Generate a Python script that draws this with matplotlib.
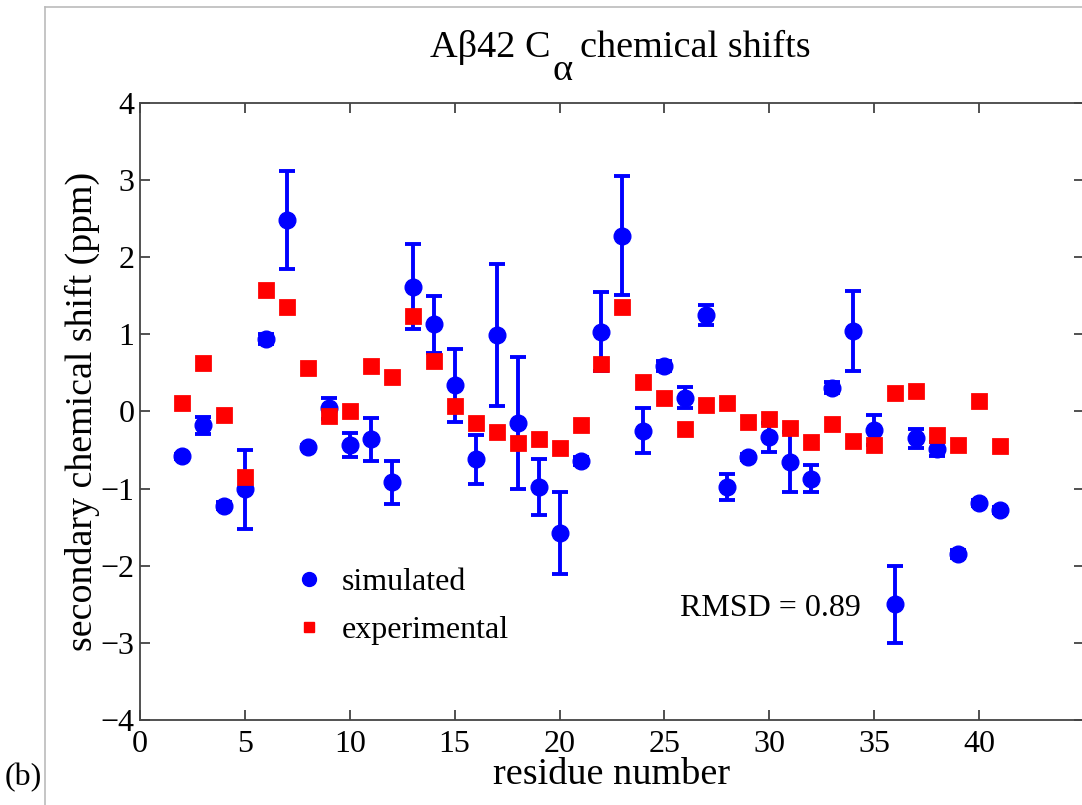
import matplotlib
matplotlib.use('Agg')
import matplotlib.pyplot as plt
from matplotlib.lines import Line2D

plt.rcParams['font.family'] = ['Liberation Serif', 'DejaVu Serif']

# residue numbers
residues = [2, 3, 4, 5, 6, 7, 8, 9, 10, 11, 12, 13, 14, 15, 16, 17, 18, 19, 20, 21,
            22, 23, 24, 25, 26, 27, 28, 29, 30, 31, 32, 33, 34, 35, 36, 37, 38, 39, 40, 41]

# simulated secondary shifts and their error bars
sim_shift = [-0.58, -0.18, -1.22, -1.01, 0.94, 2.48, -0.46, 0.04, -0.43, -0.36,
             -0.92, 1.62, 1.13, 0.34, -0.62, 0.99, -0.15, -0.98, -1.58, -0.64,
             1.035, 2.28, -0.25, 0.59, 0.18, 1.25, -0.98, -0.59, -0.335, -0.66,
             -0.87, 0.31, 1.04, -0.24, -2.50, -0.35, -0.49, -1.85, -1.19, -1.28]
sim_err = [0.03, 0.11, 0.05, 0.515, 0.07, 0.635, 0.03, 0.14, 0.155, 0.28,
           0.275, 0.555, 0.37, 0.47, 0.32, 0.925, 0.86, 0.365, 0.53, 0.05,
           0.51, 0.77, 0.29, 0.06, 0.14, 0.13, 0.165, 0.04, 0.19, 0.39,
           0.18, 0.07, 0.52, 0.19, 0.50, 0.12, 0.09, 0.05, 0.04, 0.04]

# experimental secondary shifts
exp_shift = [0.11, 0.625, -0.05, -0.85, 1.58, 1.36, 0.56, -0.06, 0.01, 0.59,
             0.45, 1.24, 0.65, 0.075, -0.15, -0.26, -0.41, -0.36, -0.48, -0.18,
             0.62, 1.36, 0.38, 0.18, -0.23, 0.09, 0.11, -0.14, -0.10, -0.21,
             -0.40, -0.16, -0.38, -0.43, 0.24, 0.27, -0.30, -0.43, 0.14, -0.45]

rmsd = 0.89

fig = plt.figure(figsize=(10.82, 8.05), dpi=100)
ax = fig.add_axes([0.1294, 0.1056, 0.8724, 0.7665])

ax.errorbar(residues, sim_shift, yerr=sim_err, fmt='o', color='#0000ff',
            markersize=12, elinewidth=2.8, capsize=6, capthick=2.8, zorder=2)
ax.plot(residues, exp_shift, 's', color='#ff0000', markersize=10.5,
        markeredgewidth=2, zorder=3)

ax.set_xlim(0, 45)
ax.set_ylim(-4, 4)
ax.set_xticks([0, 5, 10, 15, 20, 25, 30, 35, 40])
ax.set_yticks([-4, -3, -2, -1, 0, 1, 2, 3, 4])
ax.set_yticklabels(['\u22124', '\u22123', '\u22122', '\u22121', '0', '1', '2', '3', '4'])
ax.tick_params(direction='in', length=7, width=1.2, top=True, right=True,
               labelsize=23, colors='#333333', labelcolor='black')
ax.tick_params(axis='x', pad=7)
ax.tick_params(axis='y', pad=4)
for s in ax.spines.values():
    s.set_color('#444444')
    s.set_linewidth(1.3)

ax.set_xlabel('residue number', fontsize=27.5, labelpad=-1)
ax.set_ylabel('secondary chemical shift (ppm)', fontsize=27.3, labelpad=0)

# title with a full-size, lowered alpha subscript
t1 = fig.text(0.397, 0.929, 'A\u03b242 C', fontsize=27.5, va='baseline')
t2 = ax.annotate('\u03b1', xy=(1, 0), xycoords=t1, xytext=(2, -10.5),
                 textcoords='offset points', va='baseline', fontsize=27.5,
                 annotation_clip=False)
ax.annotate('chemical shifts', xy=(1, 0), xycoords=(t2, t1), xytext=(5, 0),
            textcoords='offset points', va='bottom', fontsize=27.5,
            annotation_clip=False)

handles = [Line2D([], [], marker='o', ls='', color='#0000ff', markersize=10),
           Line2D([], [], marker='s', ls='', color='#ff0000', markersize=7.5)]
ax.legend(handles, ['simulated', 'experimental'], loc='upper left',
          bbox_to_anchor=(0.149, 0.268), frameon=False, fontsize=23,
          handlelength=1.0, handletextpad=0.5, labelspacing=0.6,
          borderaxespad=0)

ax.text(0.572, 0.168, 'RMSD = %.2f' % rmsd, transform=ax.transAxes,
        fontsize=23, va='baseline')

# panel label and the grey frame around the panel
fig.text(0.004, 0.025, '(b)', fontsize=23)
fig.add_artist(Line2D([0.0416, 0.0416], [0.0, 0.991], transform=fig.transFigure,
                      color='#bbbbbb', lw=1.2))
fig.add_artist(Line2D([0.0416, 1.0], [0.991, 0.991], transform=fig.transFigure,
                      color='#bbbbbb', lw=1.2))

fig.savefig('out.png', dpi=100)
